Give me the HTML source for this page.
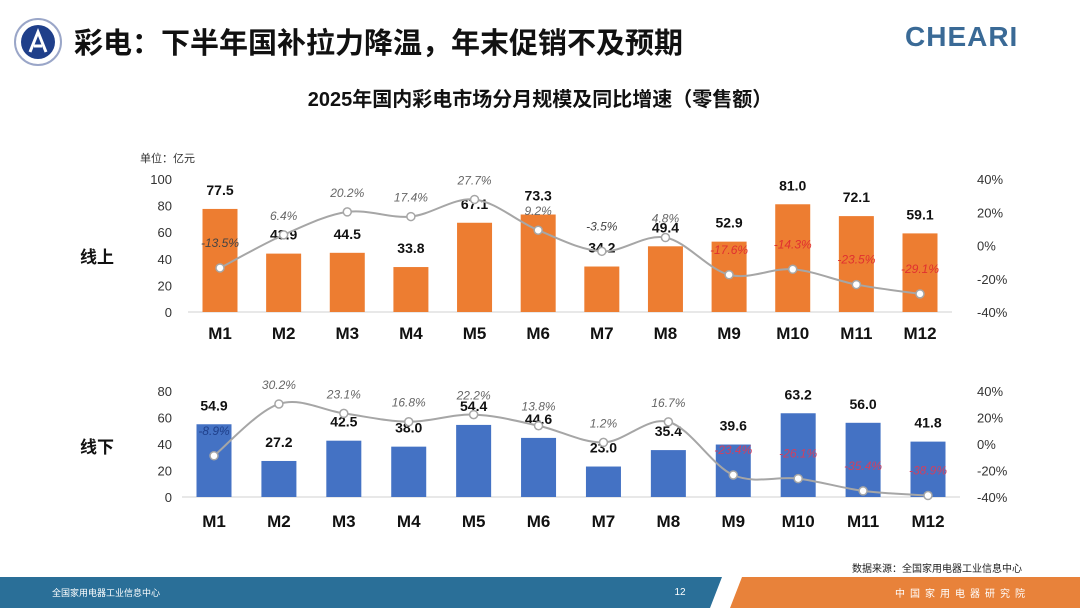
<!DOCTYPE html>
<html><head><meta charset="utf-8"><style>
body{margin:0;width:1080px;height:608px;overflow:hidden;background:#fff;font-family:"Liberation Sans","Noto Sans CJK SC",sans-serif;}
svg{display:block}
</style></head><body>
<svg id="s" width="1080" height="608" viewBox="0 0 1080 608" xmlns="http://www.w3.org/2000/svg" font-family="Liberation Sans, Noto Sans CJK SC, sans-serif">
<g>
<circle cx="38" cy="42" r="23" fill="#fff" stroke="#9aa6c8" stroke-width="2"/>
<circle cx="38" cy="42" r="17" fill="#1f3f8a"/>
<path d="M30 52 L38 32 L46 52 M34 46 L42 46" stroke="#fff" stroke-width="3" fill="none"/>
</g>
<text x="74" y="53" font-size="29" font-weight="bold" fill="#111">彩电：下半年国补拉力降温，年末促销不及预期</text>
<text x="905" y="46" font-size="28" font-weight="bold" fill="#3a6a96" letter-spacing="1">CHEARI</text>
<text x="540" y="106" font-size="20" font-weight="bold" fill="#111" text-anchor="middle">2025年国内彩电市场分月规模及同比增速（零售额）</text>
<text x="140" y="162" font-size="11" fill="#333">单位：亿元</text>
<text x="80" y="263" font-size="17" font-weight="bold" fill="#111">线上</text>
<text x="80" y="453" font-size="17" font-weight="bold" fill="#111">线下</text>
<g id="top"></g>
<g id="bot"></g>
<text x="1022" y="572" font-size="10" fill="#222" text-anchor="end">数据来源：全国家用电器工业信息中心</text>
<polygon points="0,577 722,577 710,608 0,608" fill="#2a6f98"/>
<polygon points="742,577 1080,577 1080,608 730,608" fill="#e8823a"/>
<text x="52" y="596" font-size="9" fill="#fff">全国家用电器工业信息中心</text>
<text x="680" y="595" font-size="10" fill="#fff" text-anchor="middle">12</text>
<text x="1030" y="597" font-size="10" fill="#fff" text-anchor="end" letter-spacing="5">中国家用电器研究院</text>
</svg>
<script>
const months=["M1","M2","M3","M4","M5","M6","M7","M8","M9","M10","M11","M12"];
const onlineVals=[77.5,43.9,44.5,33.8,67.1,73.3,34.2,49.4,52.9,81.0,72.1,59.1];
const onlineYoy=[-13.5,6.4,20.2,17.4,27.7,9.2,-3.5,4.8,-17.6,-14.3,-23.5,-29.1];
const offlineVals=[54.9,27.2,42.5,38.0,54.4,44.6,23.0,35.4,39.6,63.2,56.0,41.8];
const offlineYoy=[-8.9,30.2,23.1,16.8,22.2,13.8,1.2,16.7,-23.4,-26.1,-35.4,-38.9];
const topLeftTicks=[0,20,40,60,80,100];
const botLeftTicks=[0,20,40,60,80];
const rightTicks=[-40,-20,0,20,40];
const NS="http://www.w3.org/2000/svg";
function el(p,t,a,txt){const e=document.createElementNS(NS,t);for(const k in a)e.setAttribute(k,a[k]);if(txt!==undefined)e.textContent=txt;p.appendChild(e);return e;}
function draw(g,vals,yoy,lt,lmax,y0,y1,x0,x1,color,posCol,negColFn,labY,barW){
  const xs=i=>x0+i*(x1-x0)/(months.length-1);
  const yl=v=>y0-(v/lmax)*(y0-y1);
  const yr=v=>y0-((v+40)/80)*(y0-y1);
  lt.forEach(t=>{const e=el(g,'text',{x:172,y:yl(t)+5,'font-size':13,fill:'#333','text-anchor':'end'},t);

});
  rightTicks.forEach(t=>{const e=el(g,'text',{x:977,y:yr(t)+5,'font-size':13,fill:'#333'},t+'%');

});
  el(g,'line',{x1:x0-32,x2:x1+32,y1:y0,y2:y0,stroke:'#d0d0d0'});
  vals.forEach((v,i)=>{const b=el(g,'rect',{x:xs(i)-barW/2,y:yl(v),width:barW,height:y0-yl(v),fill:color});


    const t=el(g,'text',{x:xs(i),y:yl(v)-14,'font-size':14,'font-weight':'bold',fill:'#111','text-anchor':'middle'},v.toFixed(1));


    const m=el(g,'text',{x:xs(i),y:labY,'font-size':17,'font-weight':'bold',fill:'#111','text-anchor':'middle'},months[i]);

});
  const pts=yoy.map((v,i)=>[xs(i),yr(v)]);
  let d='M'+pts[0][0]+' '+pts[0][1];
  for(let i=0;i<pts.length-1;i++){const p0=pts[Math.max(0,i-1)],p1=pts[i],p2=pts[i+1],p3=pts[Math.min(pts.length-1,i+2)];
    d+=' C'+(p1[0]+(p2[0]-p0[0])/6)+' '+(p1[1]+(p2[1]-p0[1])/6)+' '+(p2[0]-(p3[0]-p1[0])/6)+' '+(p2[1]-(p3[1]-p1[1])/6)+' '+p2[0]+' '+p2[1];}
  const l=el(g,'path',{d:d,fill:'none',stroke:'#a6a6a6','stroke-width':2});


  yoy.forEach((v,i)=>{const c=el(g,'circle',{cx:pts[i][0],cy:pts[i][1],r:4,fill:'#fff',stroke:'#a6a6a6','stroke-width':1.5});


    const t=el(g,'text',{x:pts[i][0],y:pts[i][1]-(v<0?21:15),'font-size':12,'font-style':'italic',fill:v<0?negColFn(i):posCol,'text-anchor':'middle'},v.toFixed(1)+'%');

});
}
draw(document.getElementById('top'),onlineVals,onlineYoy,topLeftTicks,100,312,179,220,920,'#ed7d31','#666',i=>i<=6?'#444':'#e03030',339,35);
draw(document.getElementById('bot'),offlineVals,offlineYoy,botLeftTicks,80,497,391,214,928,'#4472c4','#666',i=>i<8?'#1f3f8a':'#d04060',527,35);
</script>
</body></html>
